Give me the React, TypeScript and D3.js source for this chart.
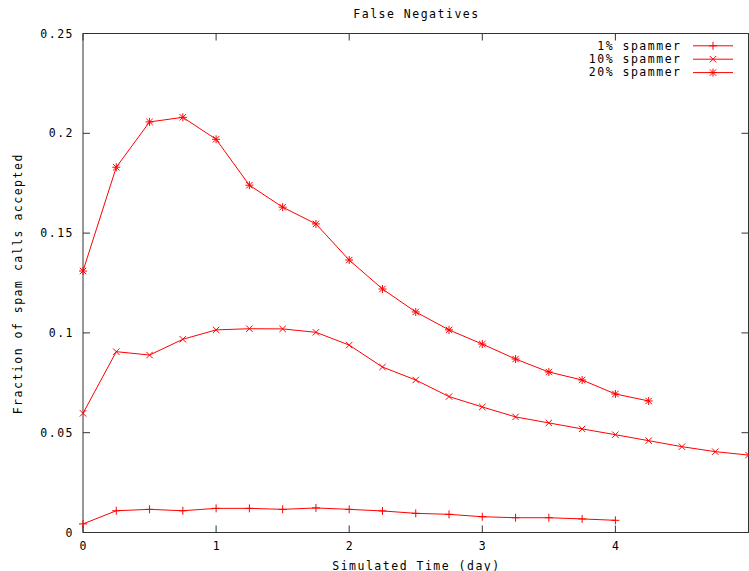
import React from "react";
import * as d3 from "d3";

// Simulated time in days (sampled every quarter day)
const time1 = [0, 0.25, 0.5, 0.75, 1, 1.25, 1.5, 1.75, 2, 2.25, 2.5, 2.75, 3, 3.25, 3.5, 3.75, 4];
const time10 = [0, 0.25, 0.5, 0.75, 1, 1.25, 1.5, 1.75, 2, 2.25, 2.5, 2.75, 3, 3.25, 3.5, 3.75, 4, 4.25, 4.5, 4.75, 5];
const time20 = [0, 0.25, 0.5, 0.75, 1, 1.25, 1.5, 1.75, 2, 2.25, 2.5, 2.75, 3, 3.25, 3.5, 3.75, 4, 4.25];

// Fraction of spam calls accepted per spammer population
const spam1 = [0.0043, 0.0109, 0.0116, 0.0109, 0.0121, 0.0121, 0.0116, 0.0123, 0.0116, 0.0108, 0.0096, 0.0091, 0.0079, 0.0074, 0.0074, 0.0068, 0.0061];
const spam10 = [0.0597, 0.0906, 0.0889, 0.0968, 0.1015, 0.1021, 0.1020, 0.1003, 0.0939, 0.0829, 0.0764, 0.0681, 0.0629, 0.0579, 0.0549, 0.0519, 0.0490, 0.0460, 0.0430, 0.0405, 0.0388];
const spam20 = [0.131, 0.183, 0.2057, 0.208, 0.197, 0.174, 0.163, 0.1546, 0.1365, 0.122, 0.1105, 0.1015, 0.0944, 0.0869, 0.0804, 0.0764, 0.0694, 0.0659];

const xTicks = [0, 1, 2, 3, 4];
const xTickMirror = [0, 1, 2, 3, 4, 5];
const yTicks = [0, 0.05, 0.1, 0.15, 0.2, 0.25];
const yTickLabels = ["0", "0.05", "0.1", "0.15", "0.2", "0.25"];

const seriesNames = ["1% spammer", "10% spammer", "20% spammer"];
const seriesMarkers = ["plus", "cross", "star"];

const W = 749;
const H = 571;
const left = 83;
const right = 748.5;
const top = 33.5;
const bottom = 532.5;

const font = "'DejaVu Sans Mono', 'Liberation Mono', monospace";
const fontSize = 11.5;
const spacing = 1.5;
const red = "#ff0000";
const axisColor = "#333";

function Marker({ kind, x, y }: { kind: string; x: number; y: number }) {
  const s = 4;
  const d = 3.2;
  const plus = `M${x - s},${y}H${x + s}M${x},${y - s}V${y + s}`;
  const cross = `M${x - d},${y - d}L${x + d},${y + d}M${x - d},${y + d}L${x + d},${y - d}`;
  const path = kind === "plus" ? plus : kind === "cross" ? cross : plus + cross;
  return <path d={path} stroke={red} strokeWidth={1} fill="none" />;
}

export default function App() {
  const x = d3.scaleLinear().domain([0, 5]).range([left, right]);
  const y = d3.scaleLinear().domain([0, 0.25]).range([bottom, top]);

  const series = [
    { xs: time1, ys: spam1 },
    { xs: time10, ys: spam10 },
    { xs: time20, ys: spam20 },
  ];

  const line = d3
    .line<[number, number]>()
    .x((p) => x(p[0]))
    .y((p) => y(p[1]));

  const tick = 7;
  const textStyle = {
    fontFamily: font,
    fontSize,
    letterSpacing: spacing,
    fill: "#000",
  } as React.CSSProperties;

  return (
    <svg
      width={W}
      height={H}
      style={{ position: "absolute", left: 0, top: 0, background: "#fff" }}
    >
      <rect x={0} y={0} width={W} height={H} fill="#fff" />

      {/* ticks on all four sides */}
      <g stroke={axisColor} strokeWidth={1}>
        {yTicks.map((t) => (
          <g key={"y" + t}>
            <line x1={left} x2={left + tick} y1={y(t)} y2={y(t)} />
            <line x1={right} x2={right - tick} y1={y(t)} y2={y(t)} />
          </g>
        ))}
        {xTickMirror.map((t) => (
          <g key={"x" + t}>
            <line x1={x(t)} x2={x(t)} y1={bottom} y2={bottom - tick} />
            <line x1={x(t)} x2={x(t)} y1={top} y2={top + tick} />
          </g>
        ))}
      </g>

      {/* border */}
      <rect
        x={left}
        y={top}
        width={right - left}
        height={bottom - top}
        fill="none"
        stroke={axisColor}
        strokeWidth={1}
      />

      {/* tick labels */}
      {yTicks.map((t, i) => (
        <text key={"yl" + t} x={left - 10.5 + spacing} y={y(t) + 4} textAnchor="end" style={textStyle}>
          {yTickLabels[i]}
        </text>
      ))}
      {xTicks.map((t) => (
        <text key={"xl" + t} x={x(t) + spacing / 2} y={550} textAnchor="middle" style={textStyle}>
          {t}
        </text>
      ))}

      {/* titles */}
      <text x={(left + right) / 2 + spacing / 2} y={18.3} textAnchor="middle" style={textStyle}>
        False Negatives
      </text>
      <text x={(left + right) / 2 + spacing / 2} y={569.5} textAnchor="middle" style={textStyle}>
        Simulated Time (day)
      </text>
      <text
        transform={`translate(21.5, ${(top + bottom) / 2 + spacing / 2}) rotate(-90)`}
        textAnchor="middle"
        style={textStyle}
      >
        Fraction of spam calls accepted
      </text>

      {/* data series */}
      {series.map((s, i) => {
        const pts = s.xs.map((t, j) => [t, s.ys[j]] as [number, number]);
        return (
          <g key={"s" + i}>
            <path d={line(pts) || ""} fill="none" stroke={red} strokeWidth={1} />
            {pts.map((p, j) => (
              <Marker key={j} kind={seriesMarkers[i]} x={x(p[0])} y={y(p[1])} />
            ))}
          </g>
        );
      })}

      {/* legend */}
      {seriesNames.map((name, i) => {
        const ly = 45.8 + i * 13.4;
        return (
          <g key={"lg" + i}>
            <text x={680 + spacing} y={ly + 3.8} textAnchor="end" style={textStyle}>
              {name}
            </text>
            <line x1={693} x2={733} y1={ly} y2={ly} stroke={red} strokeWidth={1} />
            <Marker kind={seriesMarkers[i]} x={713} y={ly} />
          </g>
        );
      })}
    </svg>
  );
}
